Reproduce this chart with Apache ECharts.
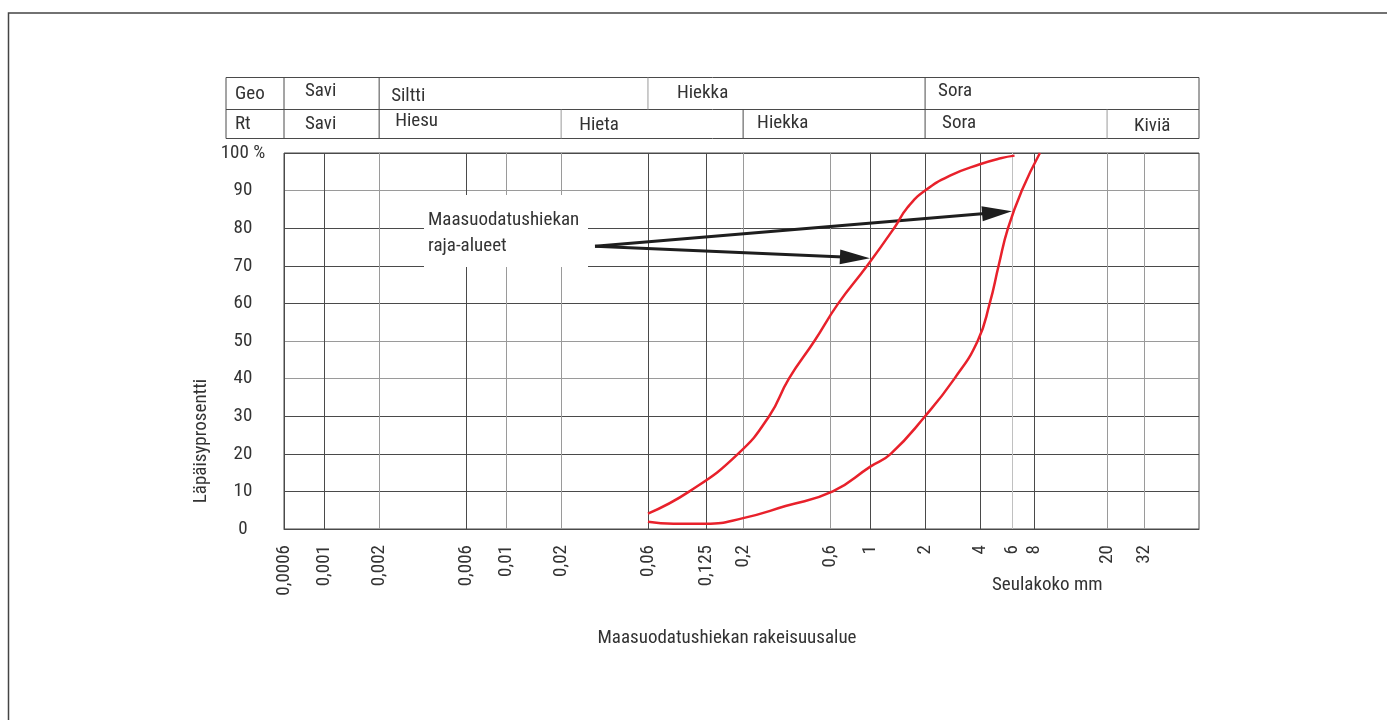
<!DOCTYPE html>
<html>
<head>
<meta charset="utf-8">
<script src="https://cdn.jsdelivr.net/npm/echarts@6/dist/echarts.min.js"></script>
<style>html,body{margin:0;padding:0;background:#fff;}#c{width:1387px;height:720px;}</style>
</head>
<body>
<div id="c"></div>
<script>
// ---- data ----
var tickValues = [0.0006, 0.001, 0.002, 0.006, 0.01, 0.02, 0.06, 0.125, 0.2, 0.6, 1, 2, 4, 6, 8, 20, 32];
var tickLabels = ['0,0006', '0,001', '0,002', '0,006', '0,01', '0,02', '0,06', '0,125', '0,2', '0,6', '1', '2', '4', '6', '8', '20', '32'];
var xMin = 0.0006, xMax = 64;

var upperX = [0.06, 0.1014, 0.1875, 0.278, 0.357, 0.493, 0.667, 0.961, 1.35, 1.6, 2.0, 2.78, 4, 5.2, 6.2];
var upperY = [4.1, 10, 20, 30, 40, 50, 60, 70, 80, 85.5, 90, 94.1, 97, 98.6, 99.3];
var lowerX = [0.06, 0.083, 0.125, 0.2, 0.342, 0.622, 1, 1.295, 2.0, 2.9, 3.89, 4.53, 5.07, 5.71, 6.8, 8.55];
var lowerY = [1.9, 1.4, 1.4, 2.9, 6.1, 10, 16.6, 20, 30, 40, 50, 60, 70, 80, 90, 100];

var geoBounds = [0.0006, 0.002, 0.06, 2, 64];
var geoNames = ['Savi', 'Siltti', 'Hiekka', 'Sora'];
var rtBounds = [0.0006, 0.002, 0.02, 0.2, 2, 20, 64];
var rtNames = ['Savi', 'Hiesu', 'Hieta', 'Hiekka', 'Sora', 'Kiviä'];

// annotation arrows (start, ends) in data units
var arrowStart = [0.0307, 75.2];
var arrowEnds = [[4.97, 84.2], [0.823, 72.2]];

// ---- layout / style ----
var FONT = "'Roboto Condensed', 'Liberation Sans Narrow', Roboto, sans-serif";
var FS = 19;
var TXT = '#333';
var DARK = '#4a4a4a', GRAY = '#9a9a9a', LIGHT = '#c0c0c0';
var vColors = [DARK, DARK, GRAY, DARK, GRAY, GRAY, DARK, DARK, GRAY, GRAY, GRAY, DARK, DARK, LIGHT, DARK, GRAY, GRAY];
var hColors = [DARK, DARK, DARK, DARK, GRAY, GRAY, DARK, DARK, DARK, GRAY, DARK];
var geoOffsets = [[21, -2], [12, 3], [29, 0], [13, -2]];
var rtOffsets = [[21, 0], [16, -3], [18, 1], [14, -1], [17, -1], [27, 2]];

var L = Math.log10;
function toLog(xs, ys) { return xs.map(function (x, i) { return [L(x), ys[i]]; }); }
var tickLog = tickValues.map(L);

var chart = echarts.init(document.getElementById('c'), null, {renderer: 'canvas'});

var option = {
  animation: false,
  backgroundColor: '#fff',
  textStyle: {fontFamily: FONT},
  grid: {left: 284, right: 188, top: 153, bottom: 191, show: true, borderColor: DARK, borderWidth: 1, backgroundColor: 'transparent'},
  xAxis: {
    type: 'value', min: L(xMin), max: L(xMax),
    axisLine: {show: true, lineStyle: {color: DARK, width: 1}},
    axisTick: {show: false, customValues: tickLog},
    axisLabel: {
      customValues: tickLog, rotate: 90, margin: 16,
      fontFamily: FONT, fontSize: FS, color: TXT,
      formatter: function (v) {
        for (var i = 0; i < tickLog.length; i++) if (Math.abs(tickLog[i] - v) < 1e-6) return tickLabels[i];
        return '';
      }
    },
    splitLine: {show: true, lineStyle: {color: vColors, width: 1}}
  },
  yAxis: {
    type: 'value', min: 0, max: 100, interval: 10,
    axisLine: {show: true, lineStyle: {color: DARK}},
    axisTick: {show: false},
    axisLabel: {
      align: 'center', margin: 41, fontFamily: FONT, fontSize: FS, color: TXT,
      formatter: function (v) { return v === 100 ? '100 %' : String(v); }
    },
    splitLine: {show: true, lineStyle: {color: hColors, width: 1}}
  },
  series: [
    {
      type: 'line', name: 'upper', data: toLog(upperX, upperY), smooth: 0.5,
      showSymbol: false, symbol: 'none', lineStyle: {color: '#e8212b', width: 2.5}, z: 5,
      markLine: {
        silent: true, symbol: ['none', 'triangle'], symbolSize: [15, 30],
        lineStyle: {color: '#1e1e1e', width: 3, type: 'solid'},
        label: {show: false},
        data: arrowEnds.map(function (e) {
          return [{coord: [L(arrowStart[0]), arrowStart[1]]}, {coord: [L(e[0]), e[1]]}];
        })
      }
    },
    {
      type: 'line', name: 'lower', data: toLog(lowerX, lowerY), smooth: 0.5,
      showSymbol: false, symbol: 'none', lineStyle: {color: '#e8212b', width: 2.5}, z: 5
    }
  ]
};
chart.setOption(option);

function px(v) { return chart.convertToPixel({gridIndex: 0}, [L(v), 0])[0]; }

var g = [];
// outer frame
g.push({type: 'rect', shape: {x: 8.5, y: 13, width: 1400, height: 800}, style: {fill: 'none', stroke: '#444', lineWidth: 1.5}, z: 1});
// table
var tLeft = 226, tRight = px(xMax), yTop = 77.5, yMid = 109.5, yBot = 138.5, colX = px(xMin);
function hline(x1, x2, y, c) { g.push({type: 'line', shape: {x1: x1, y1: y, x2: x2, y2: y}, style: {stroke: c, lineWidth: 1}, z: 1}); }
function vline(x, y1, y2, c) { g.push({type: 'line', shape: {x1: x, y1: y1, x2: x, y2: y2}, style: {stroke: c, lineWidth: 1}, z: 1}); }
function txt(x, y, s, extra) {
  var o = {type: 'text', x: x, y: y, style: {text: s, fill: TXT, font: FS + 'px ' + FONT, textVerticalAlign: 'middle', textAlign: 'left'}, z: 10};
  if (extra) for (var k in extra) o.style[k] = extra[k];
  g.push(o);
}
hline(tLeft, tRight, yTop, DARK); hline(tLeft, tRight, yMid, DARK); hline(tLeft, tRight, yBot, DARK);
vline(tLeft, yTop, yBot, DARK); vline(colX, yTop, yBot, DARK); vline(tRight, yTop, yBot, DARK);
txt(tLeft + 9, 94, 'Geo'); txt(tLeft + 9, 124, 'Rt');
for (var i = 0; i < geoNames.length; i++) {
  var a = px(geoBounds[i]);
  if (i > 0) vline(a, yTop, yMid, i === 2 ? GRAY : DARK);
  txt(a + geoOffsets[i][0], 93 + geoOffsets[i][1], geoNames[i]);
}
for (var j = 0; j < rtNames.length; j++) {
  var b = px(rtBounds[j]);
  if (j > 0) vline(b, yMid, yBot, (j === 2 || j === 5) ? GRAY : DARK);
  txt(b + rtOffsets[j][0], 124 + rtOffsets[j][1], rtNames[j]);
}
// annotation box & text
g.push({type: 'rect', shape: {x: 424, y: 195, width: 164, height: 72}, style: {fill: '#fff', stroke: 'none'}, z: 2});
txt(428, 220, 'Maasuodatushiekan');
txt(428, 246, 'raja-alueet');
// axis names
g.push({type: 'text', x: 201, y: 441, rotation: Math.PI / 2, style: {text: 'Läpäisyprosentti', fill: TXT, font: FS + 'px ' + FONT, textAlign: 'center', textVerticalAlign: 'middle'}, z: 10});
txt(992, 585, 'Seulakoko mm');
txt(727, 638, 'Maasuodatushiekan rakeisuusalue', {textAlign: 'center'});

chart.setOption({graphic: {elements: g}});
</script>
</body>
</html>
